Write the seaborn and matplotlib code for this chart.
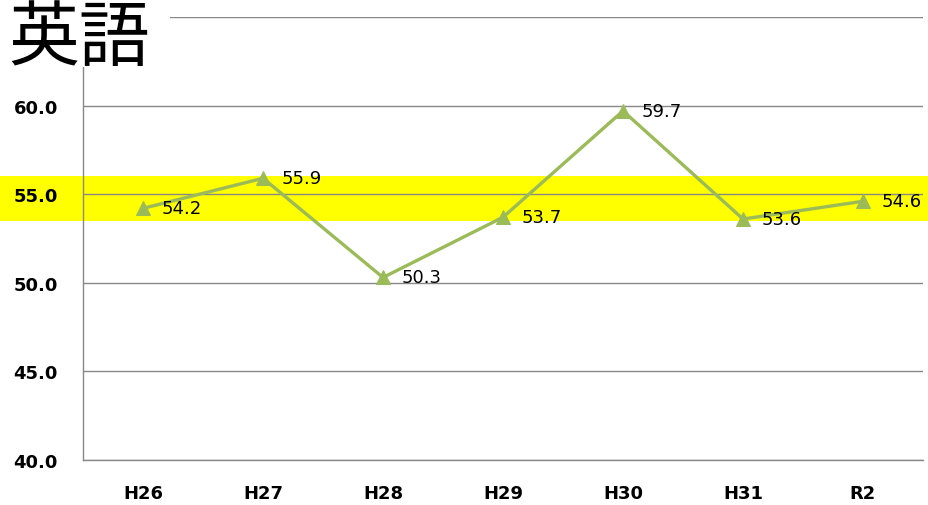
import matplotlib
matplotlib.use("Agg")
import matplotlib.pyplot as plt
import matplotlib.transforms as mtransforms
from matplotlib.patches import Rectangle
import seaborn as sns
import pandas as pd

categories = ["H26", "H27", "H28", "H29", "H30", "H31", "R2"]
scores = [54.2, 55.9, 50.3, 53.7, 59.7, 53.6, 54.6]
band_low, band_high = 53.5, 56.0
y_ticks = [40, 45, 50, 55, 60, 65]
y_labels = ["40.0", "45.0", "50.0", "55.0", "60.0", ""]
title = "英語"

sns.set_style("white")
plt.rcParams['font.family'] = ['DejaVu Sans', 'Noto Sans CJK JP']
plt.rcParams['text.color'] = 'black'
plt.rcParams['xtick.color'] = 'black'
plt.rcParams['ytick.color'] = 'black'

df = pd.DataFrame({"cat": categories, "score": scores})
df["pos"] = range(len(categories))

fig = plt.figure(figsize=(9.29, 5.06), dpi=100)
ax = fig.add_axes([83/929, 45/506, (923-83)/929, (461-18)/506])
ax.set_facecolor("none")

green = "#9BBB59"
sns.lineplot(data=df, x="pos", y="score", ax=ax, color=green, linewidth=2.4,
             marker="^", markersize=10, markeredgecolor=green, markerfacecolor=green,
             zorder=5)

ax.set_xlim(-0.5, len(categories) - 0.5)
ax.set_ylim(40, 65)
ax.set_yticks(y_ticks)
ax.set_yticklabels(y_labels, fontsize=13, fontweight="bold", color="black")
ax.set_xticks(range(len(categories)))
ax.set_xticklabels(categories, fontsize=13, fontweight="bold", color="black")
ax.set_xticks([i - 0.5 for i in range(len(categories) + 1)], minor=True)
ax.tick_params(axis="x", which="major", length=0, pad=17)
ax.tick_params(axis="x", which="minor", length=4, color="#888888", width=1)
ax.tick_params(axis="y", which="major", length=4, color="#888888", width=1, pad=14)
ax.set_xlabel("")
ax.set_ylabel("")
ax.grid(axis="y", color="#888888", linewidth=1)
ax.set_axisbelow(True)
for s in ["top", "right"]:
    ax.spines[s].set_visible(False)
for s in ["left", "bottom"]:
    ax.spines[s].set_color("#888888")
    ax.spines[s].set_linewidth(1)

for x, y in zip(df["pos"], df["score"]):
    ax.annotate(f"{y:.1f}", (x, y), xytext=(13.5, 0), textcoords="offset points",
                va="center", ha="left", fontsize=13, color="black", zorder=6)

# yellow band across full figure width
trans = mtransforms.blended_transform_factory(fig.transFigure, ax.transData)
band = Rectangle((0, band_low), 1, band_high - band_low, transform=trans,
                 facecolor="#FFFF00", edgecolor="none", zorder=-1)
fig.patches.append(band)

# white box behind title
cover = Rectangle((0, 1 - 68/506), 170/929, 68/506, transform=fig.transFigure,
                  facecolor="white", edgecolor="none", zorder=10)
fig.patches.append(cover)
fig.text(8/929, 1 - 60/506, title, fontsize=51, family=['Noto Sans CJK JP'],
         va="baseline", ha="left", color="black", zorder=11)

fig.savefig("out.png", dpi=100)
